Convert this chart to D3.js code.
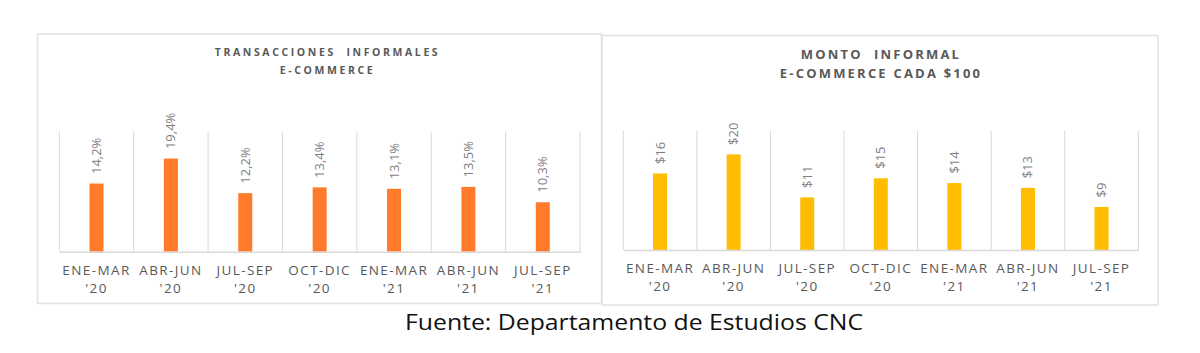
<!DOCTYPE html>
<html>
<head>
<meta charset="utf-8">
<script src="https://cdn.jsdelivr.net/npm/d3@7"></script>
<style>
  html, body { margin: 0; padding: 0; background: #ffffff; }
  svg { display: block; }
</style>
</head>
<body>
<svg id="chart" width="1200" height="353"></svg>
<script>
// ---- data ----
const periodLabels = ["ENE-MAR", "ABR-JUN", "JUL-SEP", "OCT-DIC", "ENE-MAR", "ABR-JUN", "JUL-SEP"];
const yearLabels = ["'20", "'20", "'20", "'20", "'21", "'21", "'21"];
const transaccionesValues = [14.2, 19.4, 12.2, 13.4, 13.1, 13.5, 10.3];
const montoValues = [16, 20, 11, 15, 14, 13, 9];
const leftTitle = ["TRANSACCIONES  INFORMALES", "E-COMMERCE"];
const rightTitle = ["MONTO  INFORMAL", "E-COMMERCE CADA $100"];
const footerText = "Fuente: Departamento de Estudios CNC";

const svg = d3.select("#chart");
const FONT = "'Open Sans', 'Noto Sans', sans-serif";

function panel(cfg) {
  const g = svg.append("g");
  // frame
  g.append("rect")
    .attr("x", cfg.frame[0]).attr("y", cfg.frame[1])
    .attr("width", cfg.frame[2]).attr("height", cfg.frame[3])
    .attr("fill", "none").attr("stroke", "#e3e3e3").attr("stroke-width", 1.6);

  // title
  const t = g.append("text")
    .attr("x", cfg.titleX)
    .attr("text-anchor", "middle")
    .attr("font-family", FONT)
    .attr("font-weight", "bold")
    .attr("font-size", cfg.titleSize)
    .attr("letter-spacing", cfg.titleSpacing)
    .attr("fill", "#595959")
    .style("white-space", "pre");
  cfg.title.forEach((line, i) => {
    t.append("tspan").attr("x", cfg.titleX).attr("y", cfg.titleY[i]).text(line);
  });

  const idx = d3.range(cfg.values.length);
  const x = d3.scaleBand().domain(idx).range([cfg.x0, cfg.x1]).padding(0);
  const y = d3.scaleLinear().domain([0, 25]).range([cfg.base, cfg.top]);

  // vertical category gridlines at band boundaries
  const bounds = idx.map(i => x(i)).concat([x(idx.length - 1) + x.bandwidth()]);
  g.selectAll("line.grid").data(bounds).enter().append("line")
    .attr("class", "grid")
    .attr("x1", d => d).attr("x2", d => d)
    .attr("y1", y(25)).attr("y2", y(0))
    .attr("stroke", "#d9d9d9").attr("stroke-width", 1);

  // bars
  const barW = 14;
  g.selectAll("rect.bar").data(cfg.values).enter().append("rect")
    .attr("class", "bar")
    .attr("x", (d, i) => x(i) + x.bandwidth() / 2 - barW / 2)
    .attr("y", d => y(d))
    .attr("width", barW)
    .attr("height", d => y(0) - y(d))
    .attr("fill", cfg.color);

  // value labels (rotated)
  g.selectAll("text.val").data(cfg.values).enter().append("text")
    .attr("class", "val")
    .attr("transform", (d, i) => `translate(${x(i) + x.bandwidth() / 2 + 4.5},${y(d) - 9.5}) rotate(-90)`)
    .attr("text-anchor", "start")
    .attr("font-family", FONT)
    .attr("font-size", 13)
    .attr("fill", "#7f7f7f")
    .text(d => cfg.fmt(d));

  // x axis with two-line category labels
  const axis = d3.axisBottom(x).tickSize(0).tickPadding(0).tickFormat(i => periodLabels[i]);
  const ax = g.append("g").attr("transform", `translate(0,${cfg.base})`).call(axis);
  ax.select(".domain").attr("stroke", "#d9d9d9").attr("stroke-width", 1.5);
  ax.selectAll(".tick text")
    .attr("font-family", FONT)
    .attr("font-size", 13.5)
    .attr("letter-spacing", 1.4)
    .attr("fill", "#595959")
    .attr("dy", null)
    .attr("y", null)
    .text(null)
    .each(function(i) {
      const el = d3.select(this);
      el.append("tspan").attr("x", 0).attr("y", cfg.labelY[0]).text(periodLabels[i]);
      el.append("tspan").attr("x", 0).attr("y", cfg.labelY[1]).text(yearLabels[i]);
    });
}

panel({
  frame: [37.5, 34, 564, 269.5],
  title: leftTitle, titleX: 327.5, titleY: [56, 73.5], titleSize: 10.5, titleSpacing: 2.6,
  values: transaccionesValues,
  x0: 59.3, x1: 580, top: 131.7, base: 251.7,
  color: "#FF7A2A",
  fmt: d => d3.format(".1f")(d).replace(".", ",") + "%",
  labelY: [23.5, 41.5]
});

panel({
  frame: [602, 35.5, 556, 269.5],
  title: rightTitle, titleX: 881, titleY: [58.5, 78], titleSize: 13, titleSpacing: 2.2,
  values: montoValues,
  x0: 623.3, x1: 1138.3, top: 130.5, base: 250,
  color: "#FFBC00",
  fmt: d => "$" + d,
  labelY: [23, 41]
});

// footer
svg.append("text")
  .attr("x", 634).attr("y", 330)
  .attr("text-anchor", "middle")
  .attr("font-family", FONT)
  .attr("font-size", 21.5)
  .attr("fill", "#111111")
  .attr("textLength", 458)
  .attr("lengthAdjust", "spacingAndGlyphs")
  .text(footerText);
</script>
</body>
</html>
